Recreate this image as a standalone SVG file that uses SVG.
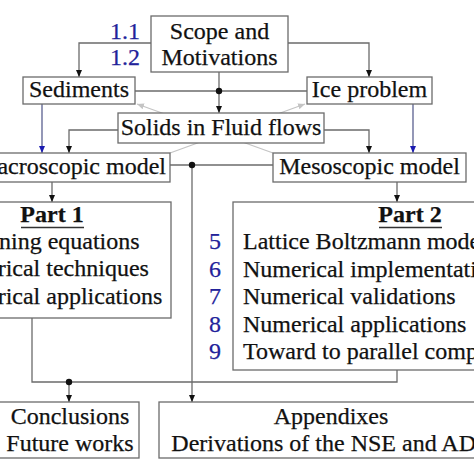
<svg xmlns="http://www.w3.org/2000/svg" width="474" height="474" viewBox="0 0 474 474">
<defs>
<style>
.box{fill:#fff;stroke:#6b6b6b;stroke-width:1.3}
text{font-family:"Liberation Serif","Times New Roman",Times,"DejaVu Serif",serif;font-size:24px;fill:#111;stroke:#111;stroke-width:0.25}
.b{font-weight:bold}
.n{fill:#22229a;stroke:#22229a}
.m{text-anchor:middle}
.e{text-anchor:end}
.c{fill:none;stroke:#6b6b6b;stroke-width:1.3}
.bl{fill:none;stroke:#5a6090;stroke-width:1.3}
.g{fill:none;stroke:#c4c4c4;stroke-width:1.3}
.u{stroke:#333;stroke-width:1.3}
</style>
<marker id="ah" markerUnits="userSpaceOnUse" markerWidth="8" markerHeight="8" refX="7" refY="4" orient="auto"><path d="M0,1 L7,4 L0,7 Z" fill="#111"/></marker>
<marker id="ahb" markerUnits="userSpaceOnUse" markerWidth="8" markerHeight="8" refX="7" refY="4" orient="auto"><path d="M0,1 L7,4 L0,7 Z" fill="#1a1ab0"/></marker>
<marker id="ahg" markerUnits="userSpaceOnUse" markerWidth="8" markerHeight="8" refX="7" refY="4" orient="auto"><path d="M0,1 L7,4 L0,7 Z" fill="#c4c4c4"/></marker>
</defs>
<rect width="474" height="474" fill="#fff"/>
<g id="connectors">
<path class="g" d="M170,153 L305,104" marker-end="url(#ahg)"/>
<path class="g" d="M273,153 L137,104" marker-end="url(#ahg)"/>
<path class="c" d="M151,43 H79 V77" marker-end="url(#ah)"/>
<path class="c" d="M288,43 H369 V77" marker-end="url(#ah)"/>
<path class="c" d="M219,72 V113" marker-end="url(#ah)"/>
<path class="c" d="M135,91 H307"/>
<circle cx="219" cy="91" r="3.2" fill="#111"/>
<path class="c" d="M118,130 H69 V153" marker-end="url(#ah)"/>
<path class="c" d="M324,130 H369 V153" marker-end="url(#ah)"/>
<path class="bl" d="M42,104 V153" marker-end="url(#ahb)"/>
<path class="bl" d="M413,104 V153" marker-end="url(#ahb)"/>
<path class="c" d="M170,165 H273"/>
<path class="c" d="M192,165 V402" marker-end="url(#ah)"/>
<circle cx="192" cy="165" r="3.2" fill="#111"/>
<path class="c" d="M52,182 V202" marker-end="url(#ah)"/>
<path class="c" d="M397,182 V202" marker-end="url(#ah)"/>
<path class="c" d="M32,318 V382 H397 V370"/>
<path class="c" d="M69,382 V402" marker-end="url(#ah)"/>
<circle cx="69" cy="382" r="3.2" fill="#111"/>
</g>
<g id="scope">
<rect class="box" x="151" y="16" width="137" height="56"/>
<text class="m" x="219.5" y="39">Scope and</text>
<text class="m" x="219.5" y="65">Motivations</text>
<text class="n e" x="140" y="39">1.1</text>
<text class="n e" x="140" y="65">1.2</text>
</g>
<g id="sediments">
<rect class="box" x="23" y="77" width="112" height="27"/>
<text class="m" x="79" y="97">Sediments</text>
</g>
<g id="ice">
<rect class="box" x="307" y="77" width="125" height="27"/>
<text class="m" x="369.5" y="97">Ice problem</text>
</g>
<g id="solids">
<rect class="box" x="118" y="113" width="206" height="30"/>
<text class="m" x="221" y="135">Solids in Fluid flows</text>
</g>
<g id="macroscopic">
<rect class="box" x="-40" y="153" width="210" height="29"/>
<text class="e" x="166" y="174">Macroscopic model</text>
</g>
<g id="mesoscopic">
<rect class="box" x="273" y="153" width="193" height="29"/>
<text class="m" x="369.5" y="174">Mesoscopic model</text>
</g>
<g id="part1">
<rect class="box" x="-67" y="202" width="238" height="116"/>
<text class="b m" x="52" y="222">Part 1</text>
<line class="u" x1="21" y1="227.5" x2="84" y2="227.5"/>
<text x="-61" y="249">Governing equations</text>
<text x="-61" y="276">Numerical techniques</text>
<text x="-61" y="304">Numerical applications</text>
</g>
<g id="part2">
<rect class="box" x="233" y="202" width="354" height="168"/>
<text class="b m" x="410" y="222">Part 2</text>
<line class="u" x1="379" y1="227.5" x2="442" y2="227.5"/>
<text x="243" y="249">Lattice Boltzmann models</text>
<text x="243" y="277">Numerical implementation</text>
<text x="243" y="304">Numerical validations</text>
<text x="243" y="332">Numerical applications</text>
<text x="243" y="359">Toward to parallel computing</text>
<text class="n m" x="215" y="249">5</text>
<text class="n m" x="215" y="277">6</text>
<text class="n m" x="215" y="304">7</text>
<text class="n m" x="215" y="332">8</text>
<text class="n m" x="215" y="359">9</text>
</g>
<g id="conclusions">
<rect class="box" x="-2" y="402" width="141" height="56"/>
<text class="m" x="70" y="424">Conclusions</text>
<text class="m" x="70" y="451">Future works</text>
</g>
<g id="appendixes">
<rect class="box" x="159" y="402" width="344" height="56"/>
<text class="m" x="331" y="424">Appendixes</text>
<text class="m" x="331" y="451">Derivations of the NSE and ADE</text>
</g>
</svg>
